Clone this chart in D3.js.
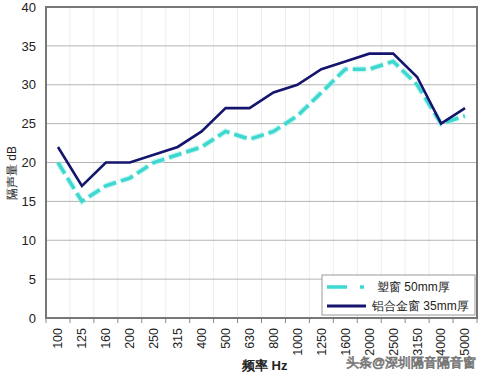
<!DOCTYPE html>
<html>
<head>
<meta charset="utf-8">
<script src="https://cdn.jsdelivr.net/npm/d3@7/dist/d3.min.js"></script>
<style>
  body { margin: 0; background: #fff; }
  svg { font-family: "Liberation Sans", Arial, sans-serif; }
</style>
</head>
<body>
<div id="chart"></div>
<script>
const freqs = ['100','125','160','200','250','315','400','500','630','800','1000','1250','1600','2000','2500','3150','4000','5000'];
const plastic = [20,15,17,18,20,21,22,24,23,24,26,29,32,32,33,30,25,26];
const alum = [22,17,20,20,21,22,24,27,27,29,30,32,33,34,34,31,25,27];
const yTicks = [0,5,10,15,20,25,30,35,40];
const seriesNames = ['塑窗 50mm厚', '铝合金窗 35mm厚'];

const w = 482, h = 380;
const margin = {top: 7, right: 5, bottom: 62, left: 46};
const visW = w - margin.left - margin.right;
const visH = h - margin.top - margin.bottom;

const svg = d3.select('#chart').append('svg')
    .attr('width', w)
    .attr('height', h);

const x = d3.scaleBand().domain(freqs).range([0, visW]);
const y = d3.scaleLinear().domain([0, 40]).range([visH, 0]);

const g = svg.append('g')
    .attr('transform', `translate(${margin.left},${margin.top})`);

// faint vertical grid
g.selectAll('.vgrid')
    .data(freqs)
    .join('line')
    .attr('x1', d => x(d)).attr('x2', d => x(d))
    .attr('y1', 0).attr('y2', visH)
    .attr('stroke', '#eeeeee');

// horizontal grid
g.selectAll('.hgrid')
    .data(yTicks)
    .join('line')
    .attr('x1', 0).attr('x2', visW)
    .attr('y1', d => y(d)).attr('y2', d => y(d))
    .attr('stroke', '#b4b4b4');

// y axis
const yAxis = g.append('g')
    .call(d3.axisLeft(y).tickValues(yTicks).tickSize(0).tickPadding(10));
yAxis.select('.domain').remove();
yAxis.selectAll('text').attr('font-size', 13).attr('fill', '#222');

// x axis
const xAxis = g.append('g')
    .attr('transform', `translate(0,${visH})`)
    .call(d3.axisBottom(x).tickSize(0).tickPadding(0));
xAxis.select('.domain').remove();
xAxis.selectAll('text')
    .attr('font-size', 12.5)
    .attr('fill', '#222')
    .attr('transform', 'rotate(-90)')
    .attr('text-anchor', 'end')
    .attr('dy', '0.35em')
    .attr('x', -10)
    .attr('y', 0);

// small tick marks at band edges below axis
g.selectAll('.xtick')
    .data(freqs.concat(['end']))
    .join('line')
    .attr('x1', (d, i) => i * x.bandwidth()).attr('x2', (d, i) => i * x.bandwidth())
    .attr('y1', visH).attr('y2', visH + 5)
    .attr('stroke', '#888');

// plot frame
g.append('rect')
    .attr('x', 0).attr('y', 0)
    .attr('width', visW).attr('height', visH)
    .attr('fill', 'none')
    .attr('stroke', '#777')
    .attr('stroke-width', 2);

const line = d3.line()
    .x((d, i) => x(freqs[i]) + x.bandwidth() / 2)
    .y(d => y(d));

// glow under cyan line
g.append('path')
    .datum(plastic)
    .attr('d', line)
    .attr('fill', 'none')
    .attr('stroke', '#a8f0ea')
    .attr('stroke-width', 6)
    .attr('stroke-dasharray', '13,5')
    .attr('opacity', 0.6);

g.append('path')
    .datum(plastic)
    .attr('d', line)
    .attr('fill', 'none')
    .attr('stroke', '#3ed8d0')
    .attr('stroke-width', 3.5)
    .attr('stroke-dasharray', '13,5');

g.append('path')
    .datum(alum)
    .attr('d', line)
    .attr('fill', 'none')
    .attr('stroke', '#15156e')
    .attr('stroke-width', 2.6);

// legend
const lg = svg.append('g').attr('transform', 'translate(322,275)');
lg.append('rect')
    .attr('width', 153).attr('height', 40)
    .attr('fill', '#fff')
    .attr('stroke', '#999');
lg.append('line')
    .attr('x1', 5).attr('x2', 44).attr('y1', 12).attr('y2', 12)
    .attr('stroke', '#3ed8d0').attr('stroke-width', 3.5)
    .attr('stroke-dasharray', '20,13,4,10');
lg.append('line')
    .attr('x1', 5).attr('x2', 44).attr('y1', 31).attr('y2', 31)
    .attr('stroke', '#15156e').attr('stroke-width', 3);
lg.selectAll('.lt')
    .data(seriesNames)
    .join('text')
    .attr('x', (d, i) => i === 0 ? 55 : 50)
    .attr('y', (d, i) => 16 + i * 19)
    .attr('font-size', 12)
    .attr('fill', '#222')
    .text(d => d);

// axis titles
svg.append('text')
    .attr('transform', 'translate(16,173) rotate(-90)')
    .attr('text-anchor', 'middle')
    .attr('font-size', 12)
    .attr('fill', '#222')
    .text('隔声量 dB');

svg.append('text')
    .attr('x', 242).attr('y', 370)
    .attr('font-size', 13)
    .attr('font-weight', 'bold')
    .attr('fill', '#222')
    .text('频率 Hz');

// watermark
svg.append('text')
    .attr('x', 346).attr('y', 367)
    .attr('font-size', 13)
    .attr('textLength', 130)
    .attr('lengthAdjust', 'spacingAndGlyphs')
    .attr('fill', '#fff')
    .attr('stroke', '#777')
    .attr('stroke-width', 0.8)
    .text('头条@深圳隔音隔音窗');
</script>
</body>
</html>
